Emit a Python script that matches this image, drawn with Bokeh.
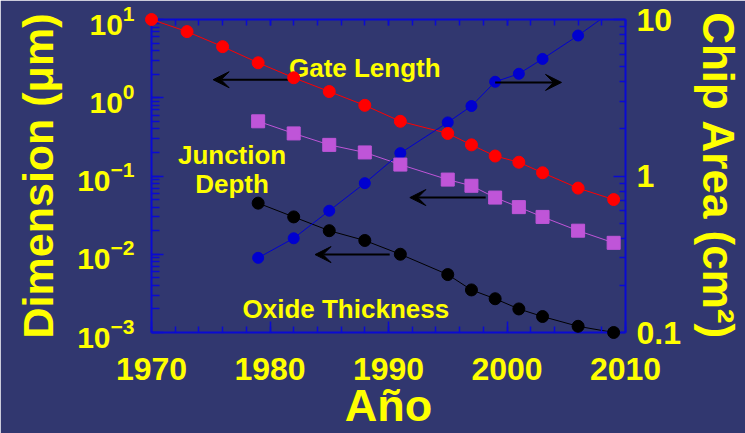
from bokeh.plotting import figure
from bokeh.models import (LogAxis, LinearAxis, Range1d, LogScale, LogTicker, FixedTicker,
                          SingleIntervalTicker, NumeralTickFormatter, CustomJSTickFormatter,
                          Arrow, VeeHead, Label)
from bokeh.embed import file_html
from bokeh.resources import INLINE

# ---- data ----
years_gate = [1970, 1973, 1976, 1979, 1982, 1985, 1988, 1991, 1995, 1997, 1999, 2001, 2003, 2006, 2009]
gate_length = [10, 7.0, 4.5, 2.8, 1.8, 1.2, 0.8, 0.5, 0.35, 0.25, 0.18, 0.15, 0.11, 0.07, 0.05]

years_junction = [1979, 1982, 1985, 1988, 1991, 1995, 1997, 1999, 2001, 2003, 2006, 2009]
junction_depth = [0.5, 0.35, 0.25, 0.2, 0.14, 0.09, 0.075, 0.053, 0.04, 0.03, 0.02, 0.014]

years_oxide = [1979, 1982, 1985, 1988, 1991, 1995, 1997, 1999, 2001, 2003, 2006, 2009]
oxide_thickness = [0.045, 0.03, 0.02, 0.015, 0.01, 0.0055, 0.0035, 0.0027, 0.002, 0.0016, 0.0012, 0.001]

years_chip = [1979, 1982, 1985, 1988, 1991, 1995, 1997, 1999, 2001, 2003, 2006, 2009]
chip_area = [0.3, 0.4, 0.6, 0.9, 1.4, 2.2, 2.8, 4.0, 4.5, 5.6, 7.9, 11.5]

chip_ticks = [0.1, 1, 10]

x_title = "Año"
y_title = "Dimension (μm)"
y2_title = "Chip Area (cm²)"

# ---- style ----
BG = "#31376f"
AXC = "#0a0ad2"
YEL = "#ffff00"
FONT = "Liberation Sans"
RED = "#ff0000"
PURPLE = "#bf55d8"
BLUE = "#0000d0"
BLACK = "#000000"

p = figure(width=745, height=433,
           x_range=Range1d(1970, 2010), y_range=Range1d(1e-3, 10),
           y_axis_type="log", output_backend="svg", toolbar_location=None,
           min_border_left=151, min_border_right=118, min_border_top=19, min_border_bottom=101,
           background_fill_color=BG, border_fill_color=BG, outline_line_color=None)
p.grid.visible = False
p.extra_y_ranges = {"area": Range1d(0.1, 10)}
p.extra_y_scales = {"area": LogScale()}


def style_axis(ax, major_in, minor_in):
    ax.axis_line_color = AXC
    ax.axis_line_width = 2
    ax.major_tick_line_color = AXC
    ax.minor_tick_line_color = AXC
    ax.major_tick_line_width = 1.5
    ax.minor_tick_line_width = 1.5
    ax.major_tick_in = major_in
    ax.major_tick_out = 0
    ax.minor_tick_in = minor_in
    ax.minor_tick_out = 0
    ax.major_label_text_color = YEL
    ax.major_label_text_font = FONT
    ax.major_label_text_font_style = "bold"
    ax.axis_label_text_color = YEL
    ax.axis_label_text_font = FONT
    ax.axis_label_text_font_style = "bold"


# bottom axis
xa = p.xaxis[0]
xa.ticker = SingleIntervalTicker(interval=10, num_minor_ticks=5)
style_axis(xa, 11, 6)
xa.major_label_text_font_size = "32px"
xa.major_label_standoff = 25
xa.axis_label = x_title
xa.axis_label_text_font_size = "45px"
xa.axis_label_standoff = -3

# left axis
ya = p.yaxis[0]
ya.ticker = LogTicker(num_minor_ticks=10)
style_axis(ya, 12, 8)
ya.major_label_text_font_size = "30px"
ya.major_label_standoff = 17
ya.axis_label = y_title
ya.axis_label_text_font_size = "43px"
ya.axis_label_standoff = 12

# top axis (ticks only)
ta = LinearAxis(ticker=SingleIntervalTicker(interval=10, num_minor_ticks=5),
                formatter=CustomJSTickFormatter(code="return ''"))
style_axis(ta, 6, 6)
ta.major_label_standoff = 0
p.add_layout(ta, "above")

# right axis (chip area)
chip_minor = [m * t for t in chip_ticks[:-1] for m in range(2, 10)]
ra = LogAxis(y_range_name="area", ticker=FixedTicker(ticks=chip_ticks, minor_ticks=chip_minor),
             formatter=NumeralTickFormatter(format="0.[0]"))
style_axis(ra, 12, 6)
ra.major_label_text_font_size = "32px"
ra.major_label_standoff = 11
ra.axis_label = y2_title
ra.axis_label_text_font_size = "44px"
ra.axis_label_standoff = 10
p.add_layout(ra, "right")

# ---- series ----
p.line(years_gate, gate_length, line_color=RED, line_width=1)
p.line(years_junction, junction_depth, line_color=PURPLE, line_width=1)
p.line(years_oxide, oxide_thickness, line_color=BLACK, line_width=1)
p.line(years_chip, chip_area, line_color=BLUE, line_width=1, y_range_name="area")

p.scatter(years_chip, chip_area, size=11, marker="circle", fill_color=BLUE, line_color=BLUE,
          y_range_name="area")
p.scatter(years_junction, junction_depth, size=13, marker="square", fill_color=PURPLE,
          line_color=PURPLE, level="overlay")
p.scatter(years_gate, gate_length, size=12, marker="circle", fill_color=RED, line_color=RED,
          level="overlay")
p.scatter(years_oxide, oxide_thickness, size=12, marker="circle", fill_color=BLACK,
          line_color=BLACK, level="overlay")

# ---- arrows ----
for xs, xe, yv in [(1981.7, 1975.2, 1.7), (1999.0, 2004.6, 1.57),
                   (1998.2, 1991.8, 0.053), (1990.1, 1983.8, 0.0099)]:
    p.add_layout(Arrow(end=VeeHead(size=16, fill_color=BLACK, line_color=BLACK, line_width=1),
                       x_start=xs, y_start=yv, x_end=xe, y_end=yv,
                       line_color=BLACK, line_width=2))

# ---- labels ----
for txt, xv, yv in [("Gate Length", 1988.0, 2.37), ("Junction", 1976.8, 0.183),
                    ("Depth", 1976.8, 0.080), ("Oxide Thickness", 1986.4, 0.00197)]:
    p.add_layout(Label(x=xv, y=yv, text=txt, text_align="center", text_baseline="middle",
                       text_color=YEL, text_font=FONT, text_font_style="bold",
                       text_font_size="26px"))

open("out.html", "w").write(file_html(p, INLINE))
